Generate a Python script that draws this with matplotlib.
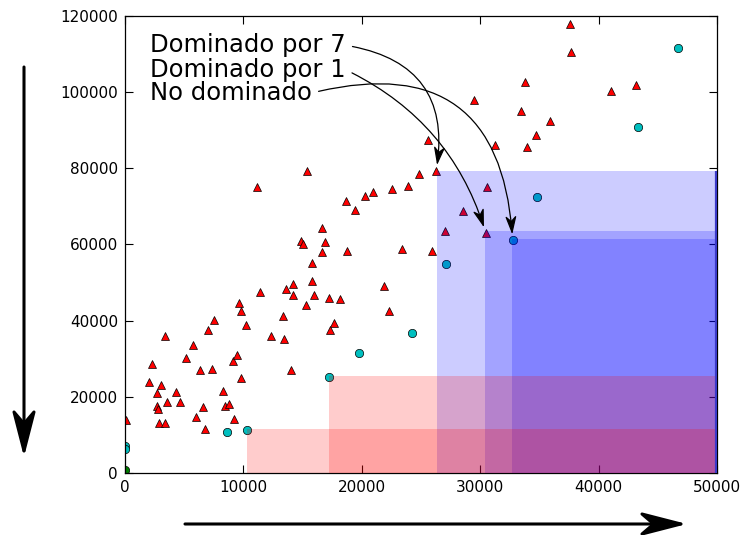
import matplotlib
matplotlib.use("Agg")
import matplotlib.pyplot as plt
from matplotlib.patches import Rectangle, FancyArrowPatch, ArrowStyle
from matplotlib.path import Path

# dominated solutions (red triangles)
dom_x = [80, 2280, 2030, 3010, 2730, 3380, 2670, 2760, 2840, 3410,
         3570, 4280, 4620, 5150, 5740, 6310, 5970, 6560, 6790, 7040,
         7520, 7350, 8310, 8420, 8760, 9210, 9120, 9460, 9770, 9600,
         9820, 10190, 11370, 12330, 13320, 13430, 13600, 14000, 14220, 14220,
         15260, 15790, 15790, 15990, 17200, 17680, 17290, 18130, 21850, 22270,
         15340, 11150, 18640, 20240, 19450, 16640, 14890, 15010, 16890, 16640,
         18720, 33780, 29450, 33470, 34690, 25570, 31280, 33950, 26290, 24860,
         23900, 22530, 20970, 30570, 28550, 27030, 30460, 23400, 25900, 37580,
         37670, 43160, 41050, 35900]
dom_y = [14000, 28700, 24000, 23200, 21100, 36000, 17700, 16700, 13200, 13200,
         18600, 21200, 18600, 30200, 33700, 27000, 14800, 17300, 11600, 37500,
         40200, 27200, 21500, 17700, 18000, 14200, 29500, 31000, 24900, 44600,
         42500, 38800, 47600, 36100, 41200, 35100, 48200, 27000, 49500, 46700,
         44100, 55200, 50300, 46700, 46000, 39400, 37500, 45800, 49100, 42500,
         79300, 75000, 71500, 72700, 69100, 64300, 61000, 60100, 60700, 58000,
         58400, 102700, 97900, 95100, 88700, 87400, 86200, 85600, 79400, 78600,
         75400, 74600, 73700, 75200, 68900, 63500, 63100, 58800, 58300, 118000,
         110500, 102000, 100300, 92400]

# non dominated solutions (cyan circles)
front_x = [0, 0, 8590, 10330, 17260, 19760, 24270, 27110, 32740, 34770, 43300, 46700]
front_y = [7200, 6300, 10800, 11200, 25300, 31600, 36700, 54900, 61200, 72600, 90800, 111600]

extra_x = [0]
extra_y = [900]

# shaded regions (lower left corner of each box, box goes to the right/bottom)
red_x = [10330, 17200]
red_y = [11600, 25500]
blue_x = [26350, 30420, 32650]
blue_y = [79300, 63600, 61400]

labels = ["Dominado por 7", "Dominado por 1", "No dominado"]
label_x = [26290, 30460, 32740]
label_y = [79400, 63100, 61200]

XMAX = 50000
YMAX = 120000


class Stealth(ArrowStyle.CurveFilledB):
    # filled head with a notch at the back
    def _get_arrow_wedge(self, x0, y0, x1, y1, head_dist, cos_t, sin_t, linewidth):
        verts, codes, ddx, ddy = super()._get_arrow_wedge(
            x0, y0, x1, y1, head_dist, cos_t, sin_t, linewidth)
        (lx, ly), (tx, ty), (rx, ry) = verts
        nx = tx + 0.7 * ((lx + rx) / 2 - tx)
        ny = ty + 0.7 * ((ly + ry) / 2 - ty)
        return ([verts[0], verts[1], verts[2], (nx, ny)],
                list(codes) + [Path.LINETO], ddx, ddy)


fig = plt.figure(figsize=(7.41, 5.35), dpi=100, facecolor='white')
ax = fig.add_axes([125 / 741, 62 / 535, 592 / 741, 457 / 535])

ax.plot(dom_x, dom_y, '^', color='r', ms=5.5, mec='k', mew=0.5)
ax.plot(front_x, front_y, 'o', color='c', ms=6, mec='k', mew=0.5)
ax.plot(extra_x, extra_y, 'o', color='g', ms=6, mec='k', mew=0.5)

for x, y in zip(blue_x, blue_y):
    ax.add_patch(Rectangle((x, 0), XMAX - x, y, fc='b', lw=0, alpha=0.2, zorder=3))
for x, y in zip(red_x, red_y):
    ax.add_patch(Rectangle((x, 0), XMAX - x, y, fc='r', lw=0, alpha=0.2, zorder=3))
# the boxes' right edges pile up against the frame
ax.vlines(XMAX * 0.998, 0, max(blue_y), color='#3a3ac8', lw=1.6, zorder=3.5)

ax.set_xlim(0, XMAX)
ax.set_ylim(0, YMAX)
ax.set_xticks(range(0, XMAX + 1, 10000))
ax.set_yticks(range(0, YMAX + 1, 20000))
ax.tick_params(direction='in', top=True, right=True, length=5.5, width=0.8,
               labelsize=11, pad=5)
for s in ax.spines.values():
    s.set_linewidth(0.9)

text_y = [0.9206, 0.8672, 0.8162]
rads = [-0.5, -0.22, -0.6]
for lab, px, py, ty, rad in zip(labels, label_x, label_y, text_y, rads):
    ax.annotate(lab, xy=(px, py), xycoords='data',
                xytext=(0.042, ty), textcoords='axes fraction',
                fontsize=17.5, ha='left', va='baseline',
                arrowprops=dict(arrowstyle=Stealth(head_length=1.1, head_width=0.34),
                                connectionstyle='arc3,rad=%s' % rad,
                                color='k', lw=0.9, relpos=(1, 0.5),
                                shrinkA=3, shrinkB=4, mutation_scale=10),
                zorder=5)

# big arrows outside the axes
fig.add_artist(FancyArrowPatch((24 / 741, 1 - 67 / 535), (24 / 741, 1 - 457 / 535),
                               transform=fig.transFigure,
                               arrowstyle=Stealth(head_length=2.8, head_width=0.72),
                               mutation_scale=10, lw=2.2, color='k',
                               shrinkA=0, shrinkB=0))
fig.add_artist(FancyArrowPatch((185 / 741, 1 - 524 / 535), (687 / 741, 1 - 524 / 535),
                               transform=fig.transFigure,
                               arrowstyle=Stealth(head_length=2.8, head_width=0.72),
                               mutation_scale=10, lw=2.2, color='k',
                               shrinkA=0, shrinkB=0))

fig.savefig('out.png', dpi=100, facecolor='white')
